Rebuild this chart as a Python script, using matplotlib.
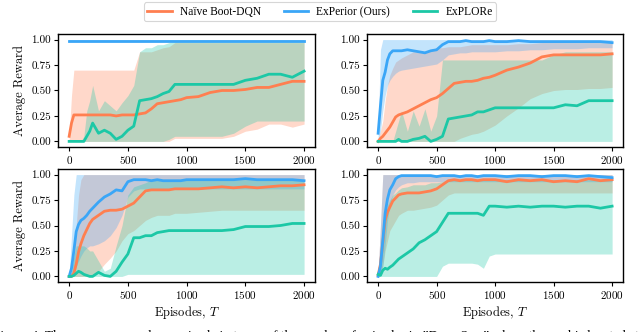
import numpy as np
import matplotlib
matplotlib.use("Agg")
import matplotlib.pyplot as plt

# ---------------- data ----------------
episodes = [0, 20, 40, 60, 80, 100, 125, 150, 175, 200, 250, 300, 350, 400, 450, 500,
            550, 600, 650, 700, 750, 800, 850, 900, 950, 1000, 1100, 1200, 1300, 1400,
            1500, 1600, 1700, 1800, 1900, 2000]

series_names = ["Naïve Boot-DQN", "ExPerior (Ours)", "ExPLORe"]

# Panel A (top-left)
a_naive = [0.05, 0.18, 0.26, 0.26, 0.26, 0.26, 0.26, 0.26, 0.26, 0.26, 0.26, 0.26, 0.26, 0.25, 0.26, 0.26,
           0.26, 0.27, 0.28, 0.32, 0.37, 0.38, 0.39, 0.40, 0.41, 0.43, 0.44, 0.48, 0.50, 0.50,
           0.51, 0.53, 0.53, 0.56, 0.59, 0.59]
a_naive_lo = [0, 0, 0, 0, 0, 0, 0, 0, 0, 0, 0, 0, 0, 0, 0, 0,
              0, 0, 0, 0, 0, 0, 0, 0.03, 0.03, 0.03, 0.03, 0.03, 0.03, 0.05,
              0.10, 0.12, 0.17, 0.17, 0.14, 0.17]
a_naive_hi = [0.05, 0.45, 0.70, 0.70, 0.70, 0.70, 0.70, 0.70, 0.70, 0.70, 0.70, 0.70, 0.70, 0.70, 0.70, 0.70,
              0.70, 0.88, 0.88, 0.88, 0.90, 0.92, 0.93, 0.97, 0.97, 0.97, 0.97, 0.97, 0.97, 0.97,
              0.97, 0.97, 0.97, 0.97, 0.97, 0.97]
a_exp = [0.99] * 36
a_exp_lo = [0.985] * 36
a_exp_hi = [0.995] * 36
a_explore = [0, 0, 0, 0, 0, 0, 0.0, 0.05, 0.10, 0.18, 0.08, 0.11, 0.08, 0.02, 0.05, 0.11,
             0.15, 0.40, 0.41, 0.42, 0.44, 0.47, 0.49, 0.56, 0.56, 0.56, 0.56, 0.56, 0.56, 0.56,
             0.60, 0.62, 0.66, 0.66, 0.63, 0.69]
a_explore_lo = [0, 0, 0, 0, 0, 0, 0, 0, 0, 0, 0, 0, 0, 0, 0, 0,
                0, 0, 0, 0, 0, 0, 0.02, 0.05, 0.05, 0.05, 0.05, 0.05, 0.05, 0.08,
                0.15, 0.20, 0.20, 0.20, 0.20, 0.20]
a_explore_hi = [0, 0, 0, 0, 0, 0, 0.05, 0.30, 0.40, 0.55, 0.30, 0.40, 0.35, 0.30, 0.38, 0.45,
                0.55, 0.88, 0.92, 0.92, 0.95, 0.95, 0.97, 0.98, 0.98, 0.98, 0.98, 0.98, 0.98, 0.98,
                0.98, 0.98, 0.98, 0.98, 0.98, 0.98]

# Panel B (top-right)
b_naive = [0.0, 0.03, 0.05, 0.08, 0.11, 0.14, 0.19, 0.24, 0.26, 0.27, 0.29, 0.32, 0.35, 0.38, 0.41, 0.43,
           0.47, 0.52, 0.57, 0.58, 0.59, 0.59, 0.60, 0.62, 0.63, 0.65, 0.70, 0.73, 0.77, 0.83,
           0.85, 0.85, 0.85, 0.85, 0.85, 0.86]
b_naive_lo = [0, 0, 0, 0, 0, 0, 0, 0, 0, 0, 0, 0, 0, 0, 0, 0,
              0, 0, 0, 0.03, 0.05, 0.07, 0.08, 0.10, 0.13, 0.16, 0.25, 0.33, 0.42, 0.47,
              0.50, 0.51, 0.51, 0.52, 0.52, 0.53]
b_naive_hi = [0.02, 0.10, 0.20, 0.40, 0.55, 0.65, 0.72, 0.78, 0.80, 0.82, 0.85, 0.88, 0.88, 0.88, 0.90, 0.92,
              0.92, 0.93, 0.93, 0.93, 0.94, 0.95, 0.95, 0.95, 0.95, 0.95, 0.95, 0.96, 0.96, 0.97,
              0.97, 0.97, 0.97, 0.97, 0.97, 0.97]
b_exp = [0.08, 0.35, 0.60, 0.68, 0.80, 0.86, 0.89, 0.89, 0.89, 0.89, 0.90, 0.89, 0.88, 0.87, 0.89, 0.90,
         0.95, 0.98, 0.98, 0.98, 0.99, 0.98, 0.98, 0.98, 0.99, 0.98, 0.98, 0.99, 0.98, 0.98,
         0.98, 0.98, 0.98, 0.98, 0.98, 0.97]
b_exp_lo = [0.0, 0.10, 0.30, 0.45, 0.55, 0.60, 0.64, 0.67, 0.69, 0.70, 0.71, 0.72, 0.73, 0.74, 0.75, 0.76,
            0.80, 0.85, 0.86, 0.87, 0.87, 0.88, 0.88, 0.88, 0.88, 0.88, 0.89, 0.89, 0.90, 0.90,
            0.91, 0.91, 0.91, 0.92, 0.92, 0.92]
b_exp_hi = [0.10, 0.90, 1.0, 1.0, 1.0, 1.0, 1.0, 1.0, 1.0, 1.0, 1.0, 1.0, 1.0, 1.0, 1.0, 1.0,
            1.0, 1.0, 1.0, 1.0, 1.0, 1.0, 1.0, 1.0, 1.0, 1.0, 1.0, 1.0, 1.0, 1.0,
            1.0, 1.0, 1.0, 1.0, 1.0, 1.0]
b_explore = [0, 0, 0, 0, 0, 0, 0, 0, 0.02, 0.0, 0.0, 0.02, 0.03, 0.05, 0.0, 0.02,
             0.05, 0.22, 0.23, 0.24, 0.25, 0.26, 0.29, 0.29, 0.31, 0.33, 0.33, 0.33, 0.33, 0.33,
             0.33, 0.36, 0.35, 0.40, 0.40, 0.40]
b_explore_lo = [0] * 36
b_explore_hi = [0, 0, 0, 0, 0, 0, 0, 0.10, 0.20, 0.30, 0.10, 0.30, 0.15, 0.32, 0.10, 0.25,
                0.80, 0.80, 0.80, 0.80, 0.80, 0.80, 0.80, 0.80, 0.80, 0.80, 0.80, 0.80, 0.80, 0.80,
                0.85, 0.88, 0.88, 0.88, 0.88, 0.88]

# Panel C (bottom-left)
c_naive = [0.0, 0.0, 0.03, 0.12, 0.24, 0.32, 0.40, 0.46, 0.52, 0.56, 0.60, 0.64, 0.65, 0.65, 0.66, 0.69,
           0.72, 0.78, 0.84, 0.85, 0.85, 0.85, 0.85, 0.86, 0.86, 0.86, 0.86, 0.87, 0.88, 0.87,
           0.88, 0.87, 0.88, 0.89, 0.89, 0.90]
c_naive_lo = [0, 0, 0, 0, 0, 0, 0, 0, 0, 0, 0.05, 0.12, 0.18, 0.25, 0.35, 0.42,
              0.45, 0.50, 0.55, 0.58, 0.60, 0.60, 0.60, 0.62, 0.62, 0.62, 0.63, 0.64, 0.65, 0.65,
              0.65, 0.65, 0.65, 0.65, 0.65, 0.65]
c_naive_hi = [0.0, 0.05, 0.20, 0.50, 0.80, 0.95, 1.0, 1.0, 1.0, 1.0, 1.0, 1.0, 1.0, 1.0, 1.0, 1.0,
              1.0, 1.0, 1.0, 1.0, 1.0, 1.0, 1.0, 1.0, 1.0, 1.0, 1.0, 1.0, 1.0, 1.0,
              1.0, 1.0, 1.0, 1.0, 1.0, 1.0]
c_exp = [0.0, 0.08, 0.25, 0.44, 0.51, 0.55, 0.57, 0.60, 0.64, 0.67, 0.73, 0.78, 0.81, 0.85, 0.84, 0.93,
         0.95, 0.95, 0.95, 0.94, 0.95, 0.94, 0.94, 0.94, 0.94, 0.95, 0.95, 0.95, 0.95, 0.95,
         0.96, 0.95, 0.95, 0.95, 0.95, 0.94]
c_exp_lo = [0, 0, 0.05, 0.10, 0.15, 0.20, 0.25, 0.28, 0.30, 0.30, 0.32, 0.35, 0.40, 0.48, 0.60, 0.78,
            0.84, 0.86, 0.86, 0.86, 0.86, 0.86, 0.86, 0.86, 0.86, 0.86, 0.86, 0.86, 0.86, 0.86,
            0.86, 0.86, 0.86, 0.86, 0.86, 0.86]
c_exp_hi = [0.02, 0.40, 0.80, 1.0, 1.0, 1.0, 1.0, 1.0, 1.0, 1.0, 1.0, 1.0, 1.0, 1.0, 1.0, 1.0,
            1.0, 1.0, 1.0, 1.0, 1.0, 1.0, 1.0, 1.0, 1.0, 1.0, 1.0, 1.0, 1.0, 1.0,
            1.0, 1.0, 1.0, 1.0, 1.0, 1.0]
c_explore = [0, 0, 0.01, 0.03, 0.05, 0.04, 0.02, 0.01, 0.0, 0.0, 0.04, 0.01, 0.0, 0.05, 0.14, 0.22,
             0.38, 0.38, 0.40, 0.40, 0.43, 0.44, 0.45, 0.45, 0.45, 0.45, 0.45, 0.45, 0.45, 0.46,
             0.49, 0.49, 0.49, 0.50, 0.52, 0.52]
c_explore_lo = [0, 0, 0, 0, 0, 0, 0, 0, 0, 0, 0, 0, 0, 0, 0, 0.02,
                0.02, 0.02, 0.02, 0.02, 0.02, 0.02, 0.02, 0.02, 0.02, 0.02, 0.02, 0.02, 0.02, 0.02,
                0.02, 0.02, 0.02, 0.02, 0.02, 0.02]
c_explore_hi = [0, 0.05, 0.20, 0.30, 0.30, 0.30, 0.30, 0.28, 0.25, 0.25, 0.15, 0.05, 0.08, 0.30, 0.50, 0.80,
                0.88, 0.90, 0.92, 0.95, 0.95, 0.95, 0.95, 0.95, 0.95, 0.95, 0.95, 0.95, 0.95, 0.95,
                0.95, 0.95, 0.95, 0.95, 0.95, 0.95]

# Panel D (bottom-right)
d_naive = [0.01, 0.12, 0.33, 0.55, 0.63, 0.68, 0.74, 0.77, 0.80, 0.81, 0.82, 0.82, 0.82, 0.83, 0.84, 0.86,
           0.90, 0.94, 0.95, 0.94, 0.95, 0.95, 0.94, 0.95, 0.95, 0.95, 0.93, 0.95, 0.94, 0.95,
           0.93, 0.94, 0.93, 0.96, 0.94, 0.95]
d_naive_lo = [0, 0.02, 0.10, 0.25, 0.35, 0.45, 0.50, 0.55, 0.60, 0.62, 0.65, 0.65, 0.66, 0.67, 0.68, 0.70,
              0.75, 0.80, 0.82, 0.82, 0.82, 0.82, 0.82, 0.82, 0.82, 0.82, 0.82, 0.82, 0.82, 0.82,
              0.82, 0.82, 0.82, 0.82, 0.82, 0.82]
d_naive_hi = [0.03, 0.50, 1.0, 1.0, 1.0, 1.0, 1.0, 1.0, 1.0, 1.0, 1.0, 1.0, 1.0, 1.0, 1.0, 1.0,
              1.0, 1.0, 1.0, 1.0, 1.0, 1.0, 1.0, 1.0, 1.0, 1.0, 1.0, 1.0, 1.0, 1.0,
              1.0, 1.0, 1.0, 1.0, 1.0, 1.0]
d_exp = [0.0, 0.10, 0.35, 0.62, 0.76, 0.85, 0.90, 0.96, 0.98, 0.99, 0.99, 0.99, 0.99, 0.99, 0.99, 0.98,
         0.99, 0.99, 0.99, 0.98, 0.99, 0.99, 0.98, 0.99, 0.99, 0.99, 0.98, 0.99, 0.99, 0.98,
         0.99, 0.99, 0.98, 0.99, 0.98, 0.97]
d_exp_lo = [0, 0.02, 0.10, 0.30, 0.55, 0.70, 0.80, 0.85, 0.88, 0.90, 0.92, 0.92, 0.93, 0.93, 0.93, 0.93,
            0.93, 0.93, 0.93, 0.93, 0.93, 0.93, 0.93, 0.93, 0.93, 0.93, 0.93, 0.93, 0.93, 0.93,
            0.93, 0.93, 0.93, 0.93, 0.93, 0.93]
d_exp_hi = [0.02, 0.50, 1.0, 1.0, 1.0, 1.0, 1.0, 1.0, 1.0, 1.0, 1.0, 1.0, 1.0, 1.0, 1.0, 1.0,
            1.0, 1.0, 1.0, 1.0, 1.0, 1.0, 1.0, 1.0, 1.0, 1.0, 1.0, 1.0, 1.0, 1.0,
            1.0, 1.0, 1.0, 1.0, 1.0, 1.0]
d_explore = [0.02, 0.01, 0.06, 0.08, 0.07, 0.09, 0.11, 0.14, 0.17, 0.19, 0.23, 0.27, 0.33, 0.36, 0.40, 0.44,
             0.53, 0.62, 0.62, 0.62, 0.62, 0.62, 0.62, 0.60, 0.69, 0.69, 0.68, 0.69, 0.68, 0.69,
             0.69, 0.68, 0.69, 0.69, 0.67, 0.69]
d_explore_lo = [0, 0, 0, 0, 0, 0, 0, 0, 0, 0, 0, 0, 0, 0, 0, 0,
                0.10, 0.13, 0.13, 0.13, 0.13, 0.13, 0.12, 0.08, 0.20, 0.22, 0.22, 0.22, 0.22, 0.22,
                0.22, 0.22, 0.22, 0.22, 0.22, 0.22]
d_explore_hi = [0.03, 0.15, 0.40, 0.60, 0.70, 0.75, 0.80, 0.82, 0.85, 0.87, 0.88, 0.90, 0.90, 0.90, 0.92, 0.92,
                0.93, 0.95, 0.95, 0.95, 0.95, 0.95, 0.95, 0.95, 0.95, 0.95, 0.95, 0.95, 0.95, 0.95,
                0.95, 0.95, 0.95, 0.95, 0.95, 0.95]

x_ticks = [0, 500, 1000, 1500, 2000]
y_ticks = [0.0, 0.25, 0.5, 0.75, 1.0]
y_ticklabels = ['0.00', '0.25', '0.50', '0.75', '1.00']
caption = ("Figure 4: The average reward per episode in terms of the number of episodes in "
           "\u201dDeep Sea,\u201d where the goal is located at")

# ---------------- style ----------------
plt.rcParams['font.family'] = 'serif'
plt.rcParams['font.serif'] = ['cmr10']
plt.rcParams['mathtext.fontset'] = 'cm'
plt.rcParams['axes.unicode_minus'] = False
plt.rcParams['axes.formatter.use_mathtext'] = True

c_orange = '#FF7F50'
c_blue = '#3AA6F7'
c_teal = '#1CC8A6'
colors = [c_orange, c_blue, c_teal]

W, H = 640, 332
fig = plt.figure(figsize=(6.4, 3.32), dpi=100)

def rect(l, r, t, b):
    return [l / W, 1 - b / H, (r - l) / W, (b - t) / H]

panels = [
    (rect(58, 315, 34, 147), (a_naive, a_naive_lo, a_naive_hi), (a_exp, a_exp_lo, a_exp_hi), (a_explore, a_explore_lo, a_explore_hi), True, False),
    (rect(367, 623, 34, 147), (b_naive, b_naive_lo, b_naive_hi), (b_exp, b_exp_lo, b_exp_hi), (b_explore, b_explore_lo, b_explore_hi), False, False),
    (rect(58, 315, 169, 282), (c_naive, c_naive_lo, c_naive_hi), (c_exp, c_exp_lo, c_exp_hi), (c_explore, c_explore_lo, c_explore_hi), True, True),
    (rect(367, 623, 169, 282), (d_naive, d_naive_lo, d_naive_hi), (d_exp, d_exp_lo, d_exp_hi), (d_explore, d_explore_lo, d_explore_hi), False, True),
]

handles = []
for pos, nv, ex, xp, ylab, xlab in panels:
    ax = fig.add_axes(pos)
    groups = [nv, ex, xp]
    for (m, lo, hi), col in zip(groups, colors):
        ax.fill_between(episodes, lo, hi, color=col, alpha=0.3, linewidth=0)
    lines = []
    for (m, lo, hi), col, name in zip(groups, colors, series_names):
        ln, = ax.plot(episodes, m, color=col, lw=2.0, label=name)
        lines.append(ln)
    handles = lines
    ax.set_xlim(-95, 2093)
    ax.set_ylim(-0.055, 1.055)
    ax.set_xticks(x_ticks)
    ax.set_yticks(y_ticks)
    ax.set_yticklabels(y_ticklabels)
    ax.tick_params(labelsize=8, length=3, width=0.8, pad=2)
    for s in ax.spines.values():
        s.set_linewidth(1.0)
        s.set_color('black')
    if ylab:
        ax.set_ylabel('Average Reward', fontsize=9, labelpad=4)
    if xlab:
        ax.set_xlabel(r'Episodes, $T$', fontsize=9, labelpad=2)

leg = fig.legend(handles, series_names, loc='upper center', bbox_to_anchor=(0.5, 1.003),
                 ncol=3, frameon=True, fancybox=True,
                 prop={'family': 'Liberation Serif', 'size': 8.3},
                 handlelength=2.1, handletextpad=0.7, columnspacing=2.0,
                 borderpad=0.3, borderaxespad=0.3)
leg.get_frame().set_edgecolor('#cccccc')
leg.get_frame().set_linewidth(0.8)

fig.text(-7 / W, 1 - 330 / H, caption, ha='left', va='top',
         fontsize=9.6, family='Liberation Serif')

fig.savefig('out.png', dpi=100)
